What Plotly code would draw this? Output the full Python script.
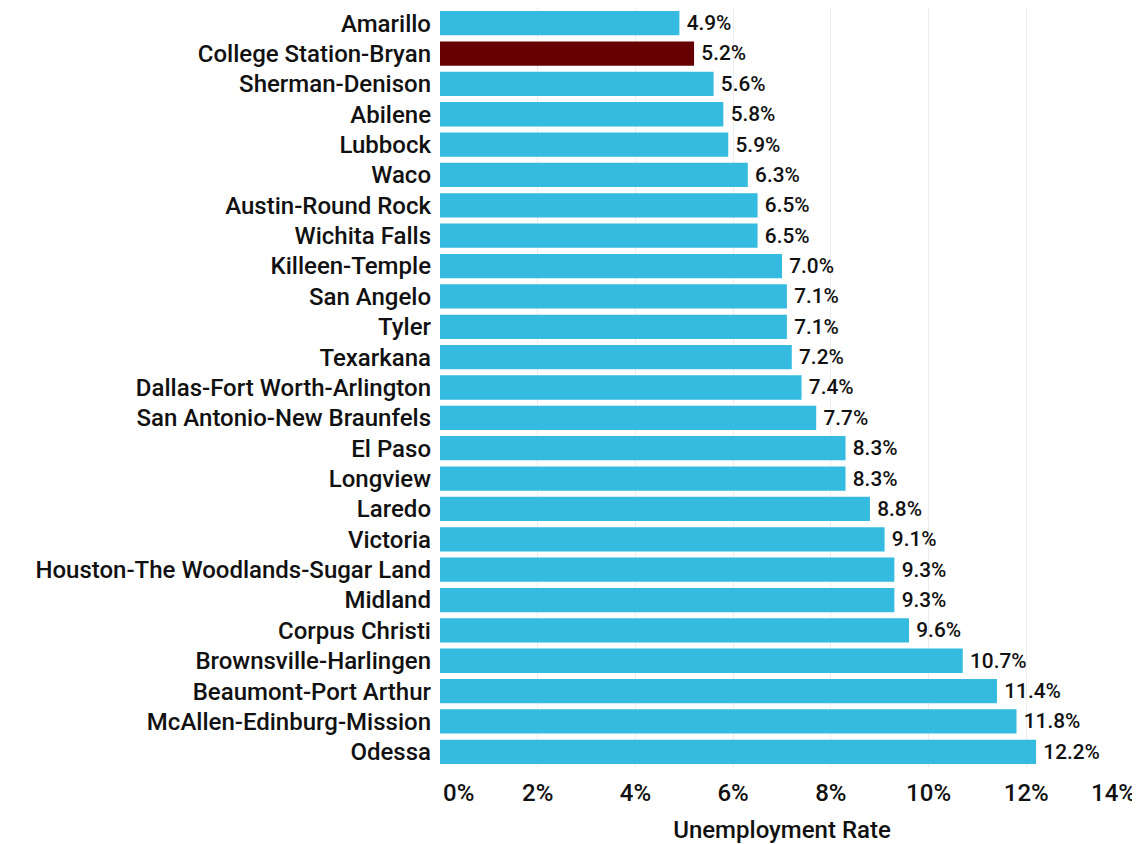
import plotly.graph_objects as go

metros = ["Amarillo", "College Station-Bryan", "Sherman-Denison", "Abilene", "Lubbock", "Waco",
          "Austin-Round Rock", "Wichita Falls", "Killeen-Temple", "San Angelo", "Tyler", "Texarkana",
          "Dallas-Fort Worth-Arlington", "San Antonio-New Braunfels", "El Paso", "Longview", "Laredo",
          "Victoria", "Houston-The Woodlands-Sugar Land", "Midland", "Corpus Christi",
          "Brownsville-Harlingen", "Beaumont-Port Arthur", "McAllen-Edinburg-Mission", "Odessa"]
rates = [4.9, 5.2, 5.6, 5.8, 5.9, 6.3, 6.5, 6.5, 7.0, 7.1, 7.1, 7.2, 7.4, 7.7, 8.3, 8.3, 8.8,
         9.1, 9.3, 9.3, 9.6, 10.7, 11.4, 11.8, 12.2]
highlight = "College Station-Bryan"
tick_vals = [0, 2, 4, 6, 8, 10, 12, 14]
tick_text = ["0%", "2%", "4%", "6%", "8%", "10%", "12%", "14%"]
x_range = [0, 14]

colors = ["#660000" if m == highlight else "#35BAE0" for m in metros]
font = dict(family="Roboto", size=24, color="#111111", weight=500)

fig = go.Figure(go.Bar(
    x=rates, y=metros, orientation="h",
    marker=dict(color=colors, line=dict(width=0)),
    text=[f"\u2009{v:.1f}%" for v in rates], textposition="outside",
    textfont=font, cliponaxis=False, hoverinfo="x+y",
))
# empty helper traces so the edge tick labels can be aligned inward
fig.add_trace(go.Scatter(x=[], y=[], xaxis="x2", yaxis="y", showlegend=False, hoverinfo="skip"))
fig.add_trace(go.Scatter(x=[], y=[], xaxis="x3", yaxis="y", showlegend=False, hoverinfo="skip"))

fig.update_layout(
    width=1132, height=836,
    margin=dict(l=432, r=16, t=0, b=77, autoexpand=False),
    paper_bgcolor="white", plot_bgcolor="white",
    bargap=0.2, showlegend=False,
    font=font,
)
common = dict(range=x_range, tickfont=font, ticks="", ticklabelstandoff=9,
              automargin=False, ticklabeloverflow="allow")
fig.update_layout(
    xaxis=dict(tickvals=tick_vals[1:-1], ticktext=tick_text[1:-1],
               showgrid=True, gridcolor="#ececec", gridwidth=1,
               zeroline=False,
               title=dict(text="Unemployment Rate", font=font, standoff=15),
               **common),
    xaxis2=dict(overlaying="x", anchor="y", side="bottom",
                tickvals=[tick_vals[0]], ticktext=[tick_text[0]],
                ticklabelposition="outside right", ticklabelshift=3,
                showgrid=True, gridcolor="#ececec", zeroline=False, showline=False, **common),
    xaxis3=dict(overlaying="x", anchor="y", side="bottom",
                tickvals=[tick_vals[-1]], ticktext=[tick_text[-1]],
                ticklabelposition="outside left", ticklabelshift=12,
                showgrid=True, gridcolor="#ececec", zeroline=False, showline=False, **common),
)
fig.update_yaxes(autorange="reversed", tickfont=font, ticks="", ticklabelstandoff=8,
                 showgrid=False, automargin=False)
fig.write_html("out.html")
